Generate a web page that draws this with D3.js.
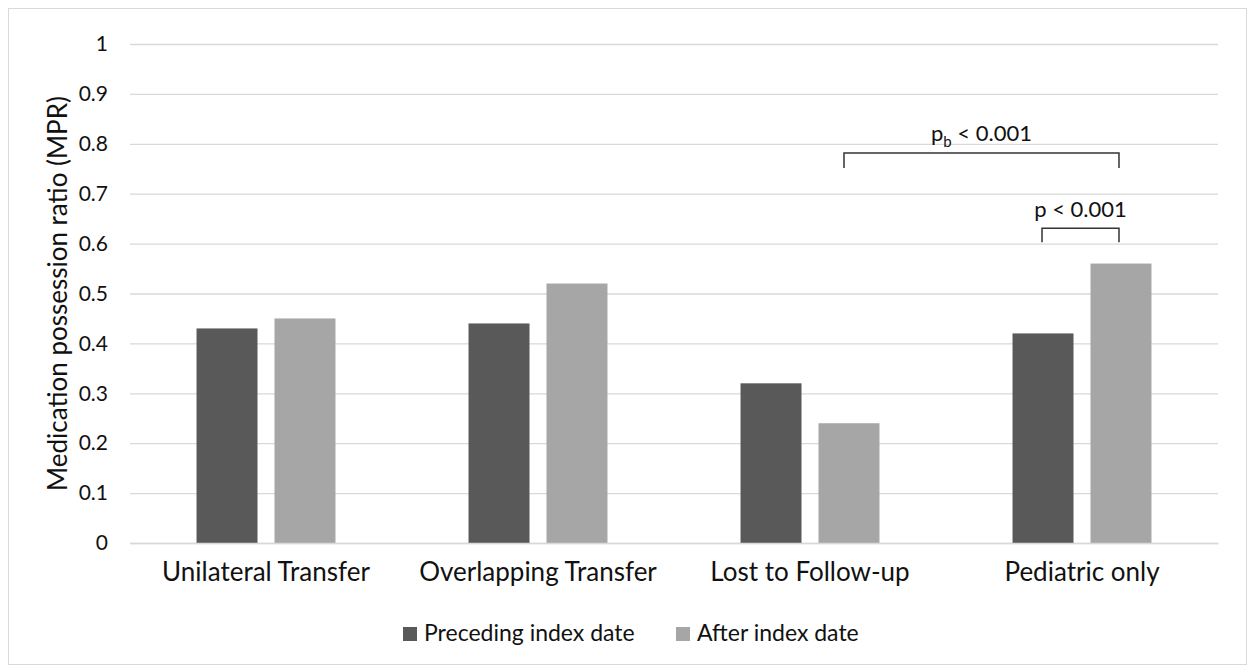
<!DOCTYPE html>
<html><head><meta charset="utf-8">
<script src="https://cdn.jsdelivr.net/npm/d3@7"></script>
<style>body{margin:0;background:#fff;}svg{display:block;font-family:Lato,"Open Sans",sans-serif;}</style>
</head><body>
<svg id="c" width="1253" height="669"></svg>
<script>
const categories = ["Unilateral Transfer","Overlapping Transfer","Lost to Follow-up","Pediatric only"];
const seriesNames = ["Preceding index date","After index date"];
const preceding = [0.43, 0.44, 0.32, 0.42];
const after = [0.45, 0.52, 0.24, 0.56];
const yTicks = [0,0.1,0.2,0.3,0.4,0.5,0.6,0.7,0.8,0.9,1];
const yTickLabels = ["0","0.1","0.2","0.3","0.4","0.5","0.6","0.7","0.8","0.9","1"];
const colors = ["#595959","#a6a6a6"];

const svg = d3.select("#c");
svg.append("rect").attr("x",8.5).attr("y",8.5).attr("width",1238).attr("height",656)
  .attr("fill","#fff").attr("stroke","#d9d9d9").attr("stroke-width",1);

const L=130, R=1218, T=44, B=543;
const x = d3.scaleBand().domain(categories).range([L,R]);
const x1 = d3.scaleBand().domain(seriesNames).range([0,x.bandwidth()]).paddingInner(0.218).paddingOuter(0.853);
const y = d3.scaleLinear().domain([0,1]).range([B,T]);

const gy = svg.append("g").attr("transform",`translate(${L},0)`)
  .call(d3.axisLeft(y).tickValues(yTicks).tickFormat((d,i)=>yTickLabels[i]).tickSize(-(R-L)).tickPadding(22));
gy.select(".domain").remove();
gy.selectAll(".tick line").attr("stroke","#d9d9d9").attr("stroke-width",1.3);
gy.selectAll(".tick text").attr("font-size",21).attr("fill","#111").attr("font-family","Lato, 'Open Sans', sans-serif");

const data = categories.map((c,i)=>({c, vals:[preceding[i],after[i]]}));
const g = svg.append("g");
data.forEach(d=>{
  d.vals.forEach((v,j)=>{
    g.append("rect").attr("x",x(d.c)+x1(seriesNames[j])).attr("width",x1.bandwidth())
      .attr("y",y(v)).attr("height",B-y(v)).attr("fill",colors[j]);
  });
});

const gx = svg.append("g").attr("transform",`translate(0,${B})`)
  .call(d3.axisBottom(x).tickSize(0).tickPadding(20));
gx.select(".domain").attr("stroke","#d9d9d9").attr("stroke-width",1.3);
gx.selectAll(".tick text").attr("font-size",26).attr("fill","#111").attr("font-family","Lato, 'Open Sans', sans-serif");

svg.append("text").attr("transform",`translate(67,${(T+B)/2}) rotate(-90)`)
  .attr("text-anchor","middle").attr("font-size",26).attr("fill","#111").text("Medication possession ratio (MPR)");

// brackets
function bracket(x0,x1_,yTop,drop){
  svg.append("path").attr("d",`M${x0},${yTop+drop}V${yTop}H${x1_}V${yTop+drop}`)
    .attr("fill","none").attr("stroke","#333").attr("stroke-width",1.5);
}
const cx = (ci,si)=> x(categories[ci])+x1(seriesNames[si])+x1.bandwidth()/2;
const lostAfter = cx(2,1)-5;
const pedAfter = cx(3,1)-2;
const pedPrec = cx(3,0)-1;
bracket(lostAfter, pedAfter, y(0.7816), 15);
bracket(pedPrec, pedAfter, y(0.631), 14);
const t1 = svg.append("text").attr("x",(lostAfter+pedAfter)/2).attr("y",141).attr("text-anchor","middle")
  .attr("font-size",22).attr("fill","#111");
t1.append("tspan").text("p");
t1.append("tspan").attr("font-size",15).attr("dy",6).text("b");
t1.append("tspan").attr("dy",-6).text(" < 0.001");
svg.append("text").attr("x",(pedPrec+pedAfter)/2).attr("y",217).attr("text-anchor","middle")
  .attr("font-size",22).attr("fill","#111").text("p < 0.001");

// legend
const lg = svg.append("g");
const lx = [403, 676];
seriesNames.forEach((s,i)=>{
  lg.append("rect").attr("x",lx[i]).attr("y",627).attr("width",14).attr("height",14).attr("fill",colors[i]);
  lg.append("text").attr("x",lx[i]+21).attr("y",641).attr("font-size",23).attr("fill","#111").text(s);
});
</script>
</body></html>
